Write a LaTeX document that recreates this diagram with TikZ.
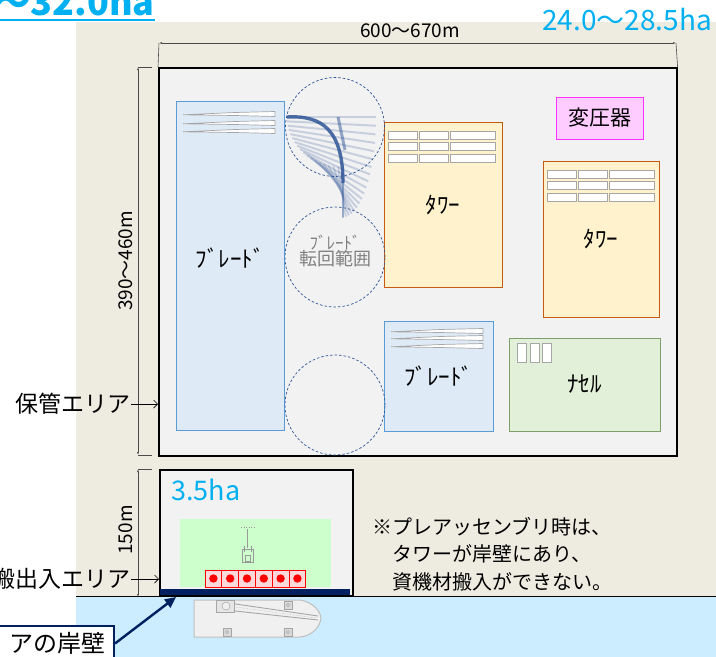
\documentclass[tikz,border=0pt]{standalone}
\usepackage{fontspec}
\setmainfont{Noto Sans CJK JP}
\usepackage{xcolor}
\definecolor{YARDbeige}{HTML}{EEECE1}
\definecolor{YARDarea}{HTML}{F2F2F2}
\definecolor{YARDcyan}{HTML}{00B0F0}
\definecolor{YARDbladeF}{HTML}{DEEBF7}
\definecolor{YARDbladeE}{HTML}{5B9BD5}
\definecolor{YARDtowerF}{HTML}{FFF2CC}
\definecolor{YARDtowerE}{HTML}{C55A11}
\definecolor{YARDtrafoF}{HTML}{FFCCFF}
\definecolor{YARDtrafoE}{HTML}{FF33FF}
\definecolor{YARDnacF}{HTML}{E2F0D9}
\definecolor{YARDnacE}{HTML}{7F9F6A}
\definecolor{YARDswing}{HTML}{2F5597}
\definecolor{YARDnavy}{HTML}{002060}
\definecolor{YARDsea}{HTML}{CCECFF}
\definecolor{YARDyard}{HTML}{CCFFCC}
\usepackage{tikz}
\usetikzlibrary{arrows.meta, positioning, calc}

\begin{document}
\begin{tikzpicture}[x=1pt, y=-1pt,
    area/.style={draw=black, line width=1.6pt, fill=YARDarea, inner sep=0pt},
    bladebox/.style={draw=YARDbladeE, line width=1pt, fill=YARDbladeF, inner sep=0pt},
    towerbox/.style={draw=YARDtowerE, line width=1pt, fill=YARDtowerF, inner sep=0pt},
    trafobox/.style={draw=YARDtrafoE, line width=1pt, fill=YARDtrafoF, inner sep=0pt},
    nacbox/.style={draw=YARDnacE, line width=1pt, fill=YARDnacF, inner sep=0pt},
    slot/.style={draw=black!35, fill=white, line width=0.8pt},
    swing/.style={circle, draw=YARDswing, line width=0.7pt, dash pattern=on 2.5pt off 2pt, inner sep=0pt},
    crate/.style={draw=red, fill=red!15, line width=0.8pt, minimum width=16.8pt, minimum height=17pt, inner sep=0pt},
    dim/.style={draw=black!70, line width=0.6pt},
    kana/.style={font=\fontsize{23}{23}\selectfont},
    big/.style={font=\fontsize{23}{23}\selectfont, inner sep=0pt},
    dimlbl/.style={font=\fontsize{19}{19}\selectfont, inner sep=0pt},
    ha/.style={text=YARDcyan, font=\fontsize{28}{28}\selectfont, inner sep=0pt}]
  \useasboundingbox (0,0) rectangle (716,657);
  % Ground and sea
  \fill[YARDbeige] (76,22) rectangle (716,597);
  \fill[YARDsea] (76,597) rectangle (716,657);
  \draw[line width=1.2pt] (76,596.5) -- (716,596.5);
  % Total area
  \node[text=YARDcyan, font=\bfseries\fontsize{36}{36}\selectfont, inner sep=0pt, anchor=base east] (total) at (155,15) {〜32.0ha};
  \draw[YARDcyan, line width=2pt] (0,20) -- (155,20);
  \node[ha] (haStore) at (627,20) {24.0〜28.5ha};

  % Storage area
  \node[area, minimum width=518pt, minimum height=388pt, anchor=north west] (store) at (158,67) {};
  \node[bladebox, minimum width=108pt, minimum height=329pt, anchor=north west] (bladeL) at (176,101) {};
  \node[kana] (bladeLlbl) at (230,258) {ﾌﾞﾚｰﾄﾞ};
  \node[towerbox, minimum width=118pt, minimum height=165pt, kana] (towerA) at (443,204.5) {ﾀﾜｰ};
  \node[towerbox, minimum width=116pt, minimum height=156pt, kana] (towerB) at (601,239) {ﾀﾜｰ};
  \node[trafobox, minimum width=87pt, minimum height=42pt, font=\fontsize{21}{21}\selectfont] (trafo) at (599.5,118) {変圧器};
  \node[bladebox, minimum width=109pt, minimum height=110pt, kana] (bladeR) at (438.5,376) {ﾌﾞﾚｰﾄﾞ};
  \node[nacbox, minimum width=151pt, minimum height=93pt, kana] (nac) at (584.5,384.5) {ﾅｾﾙ};

  % Stacked parts
  \foreach \t in {towerA,towerB}
    \foreach \r in {0,1,2}
      \foreach \c/\w in {5/29,36/29,67/45}
        \draw[slot] ([shift={(\c,9.5+11.5*\r)}]\t.north west) rectangle ++(\w,8);
  \foreach \c in {0,1,2}
    \draw[slot] ([shift={(9+12.5*\c,6)}]nac.north west) rectangle ++(9,19);
  \foreach \y in {114,123,131}
    \draw[slot, line width=0.7pt] (183,\y+0.8) -- (235,\y-1.5) -- (275,\y-2.5) -- (275,\y+2.5) -- (235,\y+1.5) -- cycle;
  \foreach \y in {331,338,346}
    \draw[slot, line width=0.7pt] (391,\y+0.8) -- (440,\y-1.5) -- (483,\y-2.5) -- (483,\y+2.5) -- (440,\y+1.5) -- cycle;

  % Blade swing
  \node[swing, minimum size=99pt] (swingA) at (335,127) {};
  \node[swing, minimum size=100pt] (swingB) at (335,257) {};
  \node[swing, minimum size=100pt] (swingC) at (335,405) {};
  \node[text=black!50, align=center, inner sep=0pt] (swinglbl) at (335,251)
    {{\fontsize{17}{19}\selectfont ﾌﾞﾚｰﾄﾞ}\\{\fontsize{18}{22}\selectfont 転回範囲}};
  \foreach \a in {0,5,...,90}
    \draw[YARDswing, opacity=0.22, line width=2pt]
      ({343-56*cos(\a)},{117+50*sin(\a)}) -- ({343+33*cos(\a)},{117+100*sin(\a)});
  \draw[YARDswing, opacity=0.85, line width=3.4pt]
    (287,117) .. controls (322,115) and (343,130) .. (343,183);
  \draw[YARDswing, opacity=0.5, line width=3pt] (338,117) -- (345,150);
  \draw[YARDswing, opacity=0.3, line width=2pt] (343,183) -- (343,218);

  % Loading area
  \node[area, minimum width=193pt, minimum height=126pt, anchor=north west] (dock) at (159,469) {};
  \node[ha, anchor=west, font=\fontsize{27}{27}\selectfont] (haDock) at (171,490) {3.5ha};
  \fill[YARDyard] (180,519) rectangle (331,587);
  \fill[YARDnavy] (160,589) rectangle (350,595);
  \foreach \i in {0,...,5} {
    \node[crate] (crate\i) at ({213.4+16.8*\i},578.5) {};
    \fill[red] (crate\i.center) circle (4.2pt);
  }
  % Crawler crane
  \draw[black!40, line width=0.5pt, dotted] (241,527) -- (254,527);
  \draw[black!40, line width=0.5pt] (247,529) -- (247,548);
  \draw[black!40, line width=0.6pt] (242,549) rectangle (253,562)
    (244,546) -- (244,552) (251,546) -- (251,552) (245,555) rectangle (250,561);

  % Vessel
  \filldraw[fill=black!6, draw=black!25, line width=1pt]
    (194,600) -- (300,600) .. controls (312,602) and (320,610) .. (321,618)
    .. controls (320,627) and (312,636) .. (300,637) -- (194,637) -- cycle;
  \draw[black!35, line width=0.9pt] (222,602) -- (318,616) (226,610) -- (318,620);
  \draw[black!35, densely dotted] (228,606) -- (316,618);
  \draw[black!35, fill=black!10, line width=0.8pt] (216,600) rectangle (234,612);
  \draw[black!40, fill=black!6] (226,606) circle (4pt);
  \foreach \p in {(288,605),(227,632),(288,632)} {
    \draw[black!35, fill=black!15] \p ++(-4,-4) rectangle ++(8,8);
    \draw[black!40] \p circle (1.6pt);
  }

  % Dimensions
  \coordinate (dimTL) at (159,43);
  \coordinate (dimTR) at (676,43);
  \draw[dim, {Latex[length=3pt,width=2pt]}-{Latex[length=3pt,width=2pt]}] (dimTL) -- (dimTR);
  \draw[dim] (dimTL) -- (store.north west) (dimTR) -- (store.north east);
  \node[dimlbl] (dimTlbl) at (410,31) {600〜670m};
  \coordinate (dimLT) at (138,67);
  \coordinate (dimLB) at (138,455);
  \draw[dim, {Latex[length=3pt,width=2pt]}-{Latex[length=3pt,width=2pt]}] (dimLT) -- (dimLB);
  \draw[dim] (dimLT) -- ++(14,0) (dimLB) -- ++(14,0);
  \node[dimlbl, rotate=90] (dimLlbl) at (126,261) {390〜460m};
  \coordinate (dimDT) at (138,469);
  \coordinate (dimDB) at (138,597);
  \draw[dim, {Latex[length=3pt,width=2pt]}-{Latex[length=3pt,width=2pt]}] (dimDT) -- (dimDB);
  \draw[dim] (dimDT) -- ++(14,0);
  \node[dimlbl, rotate=90] (dimDlbl) at (126,530) {150m};

  % Labels
  \node[big, anchor=east] (storelbl) at (131,404) {保管エリア};
  \draw[line width=0.7pt, -{Straight Barb[length=4pt]}] (storelbl.east) -- (store.west |- storelbl.east);
  \node[big, anchor=east] (docklbl) at (131,579) {搬出入エリア};
  \draw[line width=0.7pt, -{Straight Barb[length=4pt]}] (docklbl.east) -- (dock.west |- docklbl.east);
  \node[draw=YARDnavy, line width=2pt, fill=white, anchor=north east, text width=120pt, align=right,
        inner xsep=8pt, minimum height=35pt, font=\fontsize{24}{24}\selectfont] (quaylbl) at (115,625) {アの岸壁};
  \coordinate (quaytip) at (176,597);
  \draw[YARDnavy, line width=2.4pt, -{Triangle[length=11pt,width=10pt]}] (quaylbl.east) -- (quaytip);
  \node[anchor=north west, align=left, inner sep=0pt, font=\fontsize{20}{27.5}\selectfont] (note) at (372,517)
    {※プレアッセンブリ時は、\\　タワーが岸壁にあり、\\　資機材搬入ができない。};
\end{tikzpicture}
\end{document}
